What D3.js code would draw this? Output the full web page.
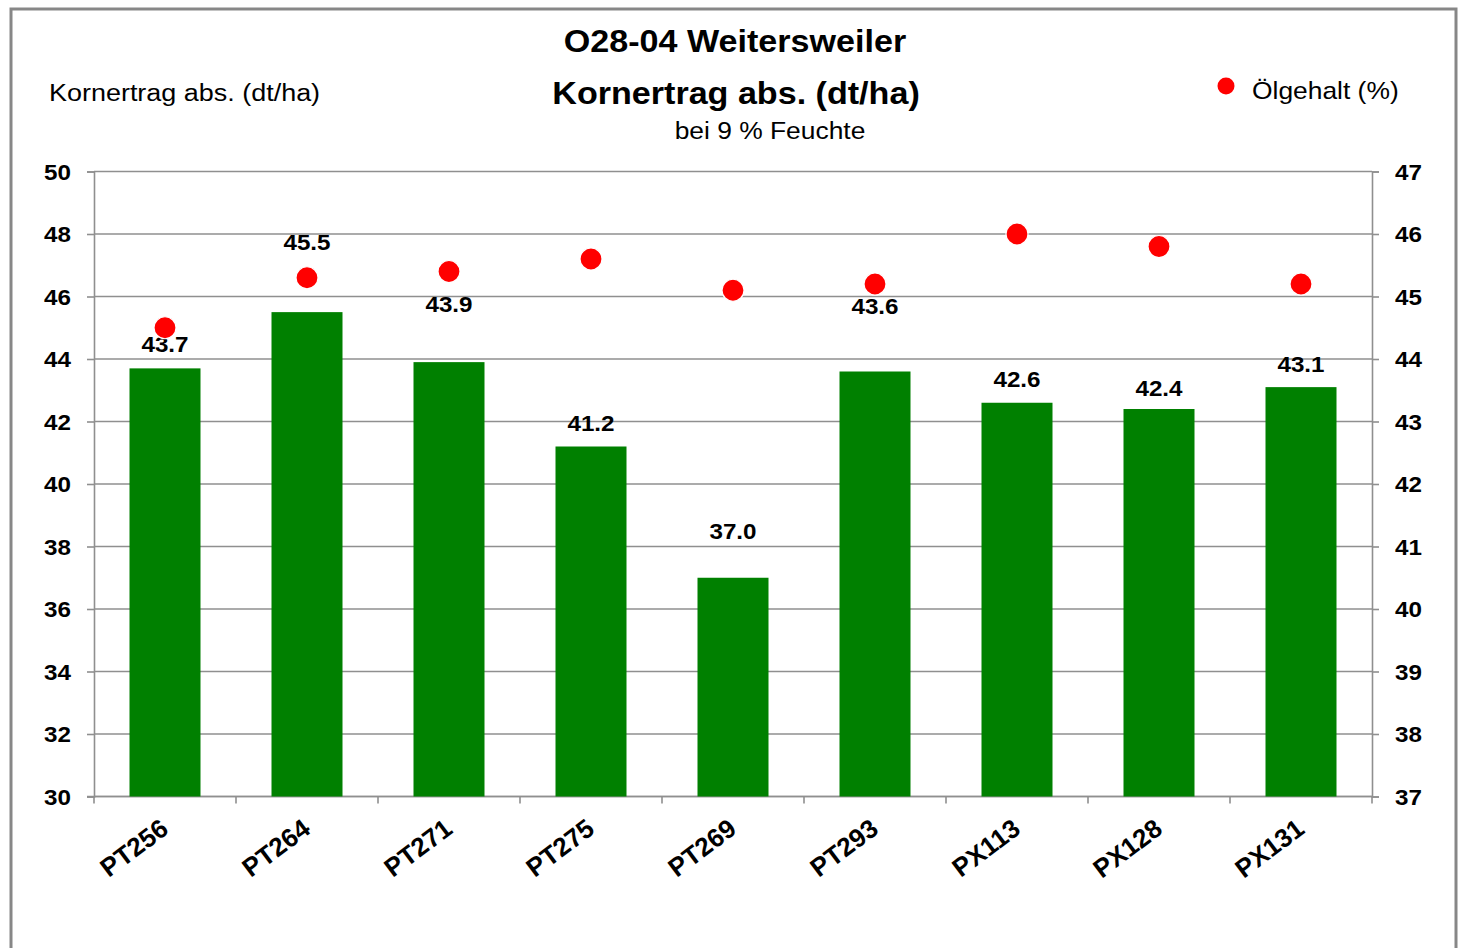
<!DOCTYPE html>
<html>
<head>
<meta charset="utf-8">
<script src="https://cdn.jsdelivr.net/npm/d3@7"></script>
<style>
  body { margin: 0; background: #fff; }
  svg { display: block; font-family: "Liberation Sans", Arial, sans-serif; }
</style>
</head>
<body>
<div id="chart"></div>
<script>
// Kornertrag (bars, left axis) + Ölgehalt (dots, right axis)

const categories = ["PT256", "PT264", "PT271", "PT275", "PT269", "PT293", "PX113", "PX128", "PX131"];
const yieldValues = [43.7, 45.5, 43.9, 41.2, 37.0, 43.6, 42.6, 42.4, 43.1];
const oilValues = [44.5, 45.3, 45.4, 45.6, 45.1, 45.2, 46.0, 45.8, 45.2];
const leftTicks = [30, 32, 34, 36, 38, 40, 42, 44, 46, 48, 50];
const rightTicks = [37, 38, 39, 40, 41, 42, 43, 44, 45, 46, 47];

// labels were hand-moved in the original, so lift each one by its own amount (px above bar top)
const labelLift = [16, 62, 50, 16, 39, 58, 16, 13, 15];

const width = 1464,
    height = 948,
    margin = ({top: 171.5, right: 92, bottom: 151.5, left: 94});
const sx = 1.1; // the source picture is a little stretched sideways
const grey = "#8f8f8f";

const data = categories.map((c, i) => ({cat: c, yld: yieldValues[i], oil: oilValues[i], lift: labelLift[i]}));

let svg = d3.select("#chart")
    .append("svg")
    .attr("width", width)
    .attr("height", height)
    .attr("viewBox", [0, 0, width, height]);

// outer frame
svg.append("rect")
    .attr("x", 11).attr("y", 9)
    .attr("width", 1445).attr("height", 960)
    .attr("fill", "none")
    .attr("stroke", "#878787")
    .attr("stroke-width", 3);

const x = d3.scaleBand()
    .domain(categories)
    .range([margin.left, width - margin.right])
    .paddingInner(0.5)
    .paddingOuter(0.25);

const y = d3.scaleLinear()
    .domain([30, 50])
    .range([height - margin.bottom, margin.top]);

const y2 = d3.scaleLinear()
    .domain([37, 47])
    .range([height - margin.bottom, margin.top]);

// helper for free text, stretched sideways like the source
function label(px, py, str, size, weight, anchor) {
    svg.append("g")
        .attr("transform", `translate(${px},${py})`)
        .append("text")
        .attr("transform", `scale(${sx},1)`)
        .attr("text-anchor", anchor || "start")
        .attr("font-size", size)
        .attr("font-weight", weight || "normal")
        .attr("fill", "#000")
        .text(str);
}

// gridlines
svg.append("g")
    .selectAll("line")
    .data(leftTicks)
    .join("line")
    .attr("x1", margin.left)
    .attr("x2", width - margin.right)
    .attr("y1", d => y(d))
    .attr("y2", d => y(d))
    .attr("stroke", grey)
    .attr("stroke-width", 1.6);

const yAxis = g => g
    .attr("transform", `translate(${margin.left},0)`)
    .call(d3.axisLeft(y).tickValues(leftTicks).tickSize(7).tickPadding(14))
    .call(g => g.select(".domain").attr("stroke", grey).attr("stroke-width", 1.6));

const y2Axis = g => g
    .attr("transform", `translate(${width - margin.right},0)`)
    .call(d3.axisRight(y2).tickValues(rightTicks).tickSize(7).tickPadding(14))
    .call(g => g.select(".domain").attr("stroke", grey).attr("stroke-width", 1.6));

for (const ax of [yAxis, y2Axis]) {
    let g = svg.append("g").call(ax);
    g.selectAll(".tick line").attr("stroke", grey).attr("stroke-width", 1.6);
    g.selectAll(".tick text")
        .attr("font-size", 22)
        .attr("font-weight", "bold")
        .attr("font-family", "Liberation Sans, Arial, sans-serif")
        .attr("fill", "#000")
        .attr("dy", "0.36em")
        .attr("transform", `scale(${sx},1)`);
}

// bottom axis: ticks sit between the categories
const bottom = svg.append("g");
bottom.append("line")
    .attr("x1", margin.left - 7).attr("x2", width - margin.right)
    .attr("y1", y(30)).attr("y2", y(30))
    .attr("stroke", grey).attr("stroke-width", 1.6);
bottom.selectAll(".sep")
    .data(d3.range(categories.length + 1))
    .join("line")
    .attr("class", "sep")
    .attr("x1", i => margin.left + i * x.step())
    .attr("x2", i => margin.left + i * x.step())
    .attr("y1", y(30))
    .attr("y2", y(30) + 7)
    .attr("stroke", grey).attr("stroke-width", 1.6);

bottom.selectAll(".cat")
    .data(categories)
    .join("text")
    .attr("class", "cat")
    .attr("transform", d => `translate(${x(d) + x.bandwidth() / 2 + 5},832) rotate(-37)`)
    .attr("text-anchor", "end")
    .attr("font-size", 26)
    .attr("font-weight", "bold")
    .text(d => d);

// bars
let bar = svg.selectAll(".bar")
    .data(data)
    .join("g")
    .attr("class", "bar");

bar.append("rect")
    .attr("fill", "#008000")
    .attr("x", d => x(d.cat))
    .attr("width", x.bandwidth())
    .attr("y", d => y(d.yld))
    .attr("height", d => y(30) - y(d.yld));

// oil content dots
svg.append("g")
    .selectAll("circle")
    .data(data)
    .join("circle")
    .attr("cx", d => x(d.cat) + x.bandwidth() / 2)
    .attr("cy", d => y2(d.oil))
    .attr("r", 11)
    .attr("fill", "#ff0000")
    .attr("stroke", "#fff")
    .attr("stroke-width", 1.2);

// value labels
bar.append("g")
    .attr("transform", d => `translate(${x(d.cat) + x.bandwidth() / 2},${y(d.yld) - d.lift})`)
    .append("text")
    .attr("transform", `scale(${sx},1)`)
    .attr("text-anchor", "middle")
    .attr("font-size", 22)
    .attr("font-weight", "bold")
    .text(d => d.yld.toFixed(1));

// titles
label(735, 52, "O28-04 Weitersweiler", 31, "bold", "middle");
label(736, 104, "Kornertrag abs. (dt/ha)", 31, "bold", "middle");
label(770, 139, "bei 9 % Feuchte", 24, "normal", "middle");
label(49, 101, "Kornertrag abs. (dt/ha)", 24.5, "normal", "start");

// legend
svg.append("circle")
    .attr("cx", 1226).attr("cy", 86).attr("r", 8.5)
    .attr("fill", "#ff0000");
label(1252, 99, "Ölgehalt (%)", 24, "normal", "start");
</script>
</body>
</html>
